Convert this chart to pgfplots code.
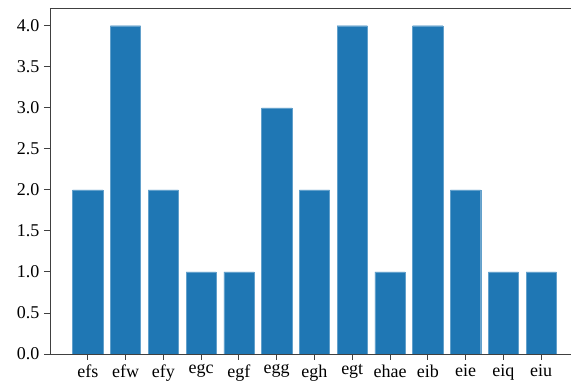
\documentclass[border=0pt]{standalone}
\usepackage{pgfplots}
\pgfplotsset{compat=1.18}
\usepackage{fontspec}
\setmainfont{Liberation Serif}
\definecolor{mplblue}{HTML}{1F77B4}
\begin{document}
\begin{tikzpicture}
\begin{axis}[
  name=a,
  scale only axis,
  width=521pt, height=345.5pt,
  xmin=-1.0, xmax=12.79,
  ymin=0, ymax=4.21,
  axis y line*=left,
  axis x line*=box,
  axis line style={draw=black!75, line width=0.9pt},
  xtick={0,...,12},
  xticklabels={efs,efw,efy,egc,egf,egg,egh,egt,ehae,eib,eie,eiq,eiu},
  ytick={0,0.5,...,4.0},
  yticklabel style={/pgf/number format/fixed, /pgf/number format/fixed zerofill, /pgf/number format/precision=1, xshift=-1pt},
  /pgf/number format/assume math mode=true,
  tick align=outside,
  xtick pos=bottom, ytick pos=left,
  major tick length=6pt,
  tick style={draw=black!75, line width=0.9pt},
  ticklabel style={font=\fontsize{18}{20}\selectfont},
  xticklabel style={yshift=-1pt},
  ybar, bar width=0.8,
]
\addplot[fill=mplblue, draw=mplblue!70!white, line width=0.4pt] coordinates {
(0,2) (1,4) (2,2) (3,1) (4,1) (5,3) (6,2) (7,4) (8,1) (9,4) (10,2) (11,1) (12,1)
};
\end{axis}
\pgfresetboundingbox
\path[use as bounding box] ([xshift=-50pt,yshift=-29pt]a.south west) rectangle ([yshift=8.5pt]a.north east);
\end{tikzpicture}
\end{document}
